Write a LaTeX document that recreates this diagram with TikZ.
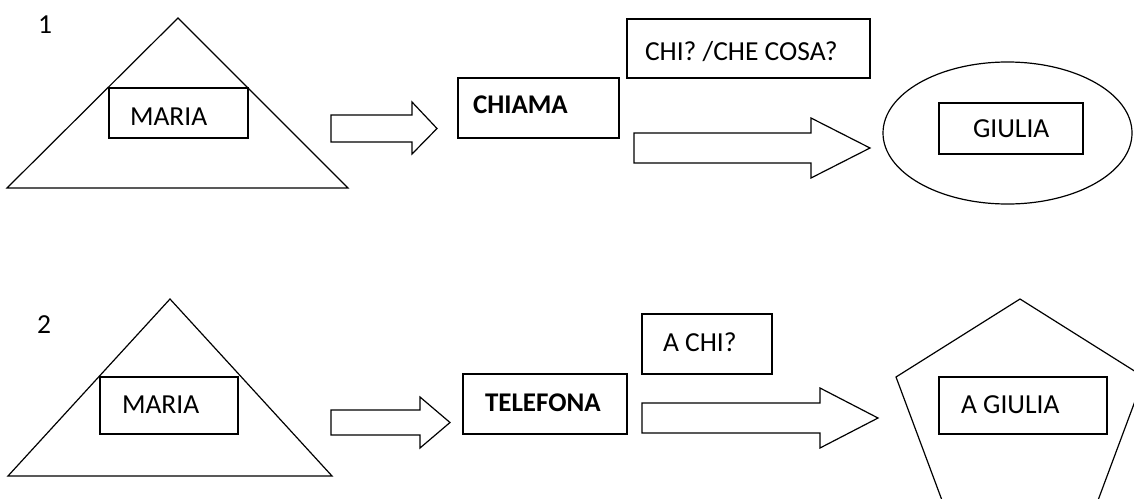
\documentclass[tikz,border=0pt]{standalone}
\usepackage{fontspec}
\setmainfont{Carlito}
\begin{document}
\begin{tikzpicture}[x=1pt,y=-1pt,
  shapeline/.style={draw=black,line width=1.2pt,line join=miter},
  box/.style={draw=black,line width=1.2pt,rectangle,inner sep=0pt,outer sep=0pt},
  txt/.style={inner sep=0pt,outer sep=0pt,anchor=base west,font=\fontsize{27.5}{32}\selectfont},
  btxt/.style={txt,font=\fontsize{27}{32}\selectfont\bfseries},
  blockarrow/.style={draw=black,line width=1.2pt,fill=white,line join=miter}]
\useasboundingbox (0,0) rectangle (1134,498);
\clip (0,0) rectangle (1134,498);
\fill[white] (0,0) rectangle (1134,498);

% ---------- row 1 ----------
\node[txt] (n1) at (38,33) {1};
\draw[shapeline] (178,18) -- (348,188) -- (7,188) -- cycle;
\node[box,fill=white,minimum width=139pt,minimum height=50pt] (maria1) at (178.5,113) {};
\node[txt] (tmaria1) at (130,125) {MARIA};

\draw[blockarrow] (331,115) -- (412,115) -- (412,102) -- (437,128.5) -- (412,154) -- (412,142) -- (331,142) -- cycle;

\node[box,minimum width=161pt,minimum height=60pt] (chiama) at (538.5,108) {};
\node[btxt] (tchiama) at (473,113) {CHIAMA};

\node[box,minimum width=243pt,minimum height=59pt] (chi1) at (748.5,48.5) {};
\node[txt] (tchi1) at (645,60) {CHI? /CHE COSA?};

\draw[blockarrow] (634,133) -- (811,133) -- (811,118) -- (870,148) -- (811,178) -- (811,163) -- (634,163) -- cycle;

\draw[shapeline] (1007.5,133) ellipse [x radius=124.5pt, y radius=71pt];
\node[box,minimum width=144pt,minimum height=51pt] (giulia) at (1011,128.5) {};
\node[txt] (tgiulia) at (973,137) {GIULIA};

% ---------- row 2 ----------
\node[txt] (n2) at (37,333) {2};
\draw[shapeline] (170,299) -- (332,476) -- (8,476) -- cycle;
\node[box,fill=white,minimum width=138pt,minimum height=57pt] (maria2) at (169,405.5) {};
\node[txt] (tmaria2) at (122,413) {MARIA};

\draw[blockarrow] (331,410) -- (420,410) -- (420,397) -- (450,422.5) -- (420,448) -- (420,435) -- (331,435) -- cycle;

\node[box,minimum width=164pt,minimum height=60pt] (telefona) at (545,404) {};
\node[btxt] (ttelefona) at (485,411) {TELEFONA};

\node[box,minimum width=130pt,minimum height=60pt] (achi) at (707,344) {};
\node[txt] (tachi) at (663,351) {A CHI?};

\draw[blockarrow] (642,403) -- (820,403) -- (820,388) -- (878,418) -- (820,448) -- (820,433) -- (642,433) -- cycle;

\draw[shapeline] (1020,299) -- (1144,377) -- (1097,503) -- (943,503) -- (896,377) -- cycle;
\node[box,minimum width=168pt,minimum height=57pt] (agiulia) at (1023,405.5) {};
\node[txt] (tagiulia) at (961,413) {A GIULIA};
\end{tikzpicture}
\end{document}
